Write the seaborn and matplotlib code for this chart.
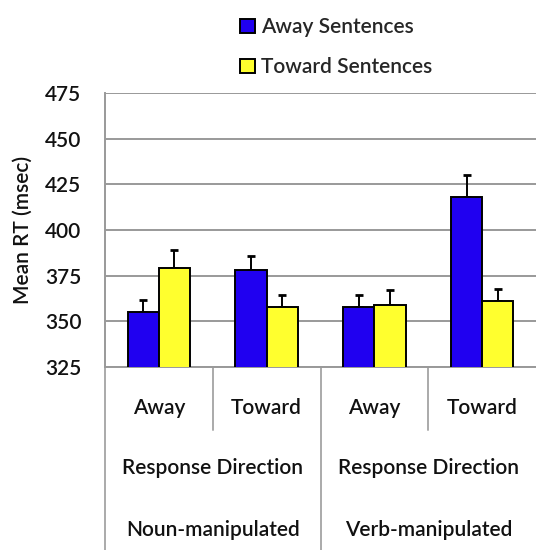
import matplotlib
matplotlib.use("Agg")
import matplotlib.pyplot as plt
import seaborn as sns
import pandas as pd
import numpy as np

# Mean reaction times (msec) per response-direction cell, by sentence type
conditions = ["Noun Away", "Noun Toward", "Verb Away", "Verb Toward"]
response_labels = ["Away", "Toward", "Away", "Toward"]
group_labels = ["Noun-manipulated", "Verb-manipulated"]
series_names = ["Away Sentences", "Toward Sentences"]
away_rt = [355, 378, 358, 418]
toward_rt = [379, 358, 359, 361]
away_err = [6.5, 8, 6.5, 12]
toward_err = [10, 6.5, 8, 6.5]
y_ticks = [325, 350, 375, 400, 425, 450, 475]

sns.set_theme(style="white")
plt.rcParams["font.family"] = ["Lato", "DejaVu Sans"]
plt.rcParams["font.weight"] = "semibold"
plt.rcParams["axes.labelweight"] = "semibold"

FS = 15
TXT = "#111111"

df = pd.DataFrame({
    "condition": conditions * 2,
    "rt": away_rt + toward_rt,
    "sentence": [series_names[0]] * 4 + [series_names[1]] * 4,
})

fig = plt.figure(figsize=(5.36, 5.5), dpi=100)
ax = fig.add_axes([105 / 536, 1 - 367 / 550, 431 / 536, 274 / 550])

palette = {series_names[0]: "#2000f0", series_names[1]: "#ffff2e"}
sns.barplot(data=df, x="condition", y="rt", hue="sentence", order=conditions,
            hue_order=series_names, palette=palette, width=0.58, errorbar=None,
            edgecolor="black", linewidth=1.4, saturation=1, ax=ax, zorder=3)

# upward-only error bars on each bar
for cont, errs in zip(ax.containers, [away_err, toward_err]):
    xs = [p.get_x() + p.get_width() / 2 for p in cont.patches]
    hs = [p.get_height() + p.get_y() for p in cont.patches]
    ax.errorbar(xs, hs, yerr=[np.zeros(len(errs)), errs], fmt="none",
                ecolor="black", elinewidth=1.4, capsize=3, capthick=2, zorder=2)

ax.set_ylim(325, 475)
ax.set_xlim(-0.5, 3.5)
ax.set_yticks(y_ticks)
ax.set_yticklabels([str(t) for t in y_ticks], fontsize=FS, color=TXT)
ax.tick_params(axis="y", length=8, width=1.3, color="#999999", direction="out", pad=9)
ax.set_xticks([])
ax.set_xlabel("")
ax.set_ylabel("Mean RT (msec)", fontsize=FS, color=TXT, labelpad=9,
              fontweight="semibold")
ax.yaxis.grid(True, color="#999999", linewidth=1.4, zorder=0)
ax.set_axisbelow(True)
for side in ["top", "right"]:
    ax.spines[side].set_visible(False)
for side in ["left", "bottom"]:
    ax.spines[side].set_color("#999999")
    ax.spines[side].set_linewidth(1.4)

# category table beneath the axis
trans = ax.get_xaxis_transform()
for x in [0.5, 2.5]:
    ax.plot([x, x], [0, -0.23], transform=trans, color="#aaaaaa", lw=1.4, clip_on=False)
for x in [-0.5, 1.5]:
    ax.plot([x, x], [0, -0.67], transform=trans, color="#aaaaaa", lw=1.4, clip_on=False)
for i, lab in enumerate(response_labels):
    ax.text(i, -0.15, lab, transform=trans, ha="center", va="center",
            fontsize=FS, color=TXT)
for g, lab in enumerate(group_labels):
    ax.text(0.5 + 2 * g, -0.369, "Response Direction", transform=trans,
            ha="center", va="center", fontsize=FS, color=TXT)
    ax.text(0.5 + 2 * g, -0.595, lab, transform=trans, ha="center", va="center",
            fontsize=FS, color=TXT)

leg = ax.get_legend()
handles, labels = ax.get_legend_handles_labels()
leg.remove()
fig.legend(handles, labels, loc="upper left", bbox_to_anchor=(230 / 536, 1 - 7 / 550),
           frameon=False, fontsize=FS, handlelength=0.7, handleheight=0.7,
           handletextpad=0.3, labelspacing=0.95, borderpad=0)

fig.savefig("out.png", dpi=100)
